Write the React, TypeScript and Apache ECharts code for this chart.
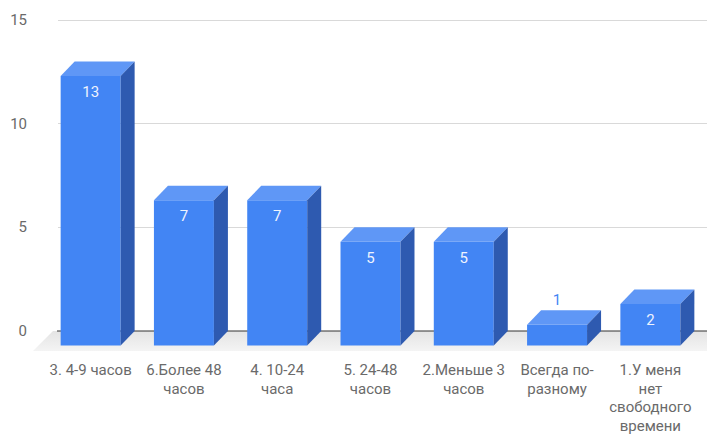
import React, { useEffect, useRef } from "react";
import * as echarts from "echarts";

// Answers per time bucket
const categories = [
  "3. 4-9 часов",
  "6.Более 48\nчасов",
  "4. 10-24\nчаса",
  "5. 24-48\nчасов",
  "2.Меньше 3\nчасов",
  "Всегда по-\nразному",
  "1.У меня\nнет\nсвободного\nвремени",
];
const counts = [13, 7, 7, 5, 5, 1, 2];
const yTicks = { min: 0, max: 15, interval: 5 };

// 3D box depth (px) and colours
const DX = 14;
const DY = 14.5;
const FRONT = "#4285f4";
const TOP = "#5f97f6";
const SIDE = "#2e5ab0";
const FONT = "Roboto, 'Noto Sans', sans-serif";

export default function App() {
  const ref = useRef<HTMLDivElement>(null);

  useEffect(() => {
    if (!ref.current) return;
    const chart = echarts.init(ref.current, null, { renderer: "svg" });

    const floorSeries = {
      type: "custom",
      silent: true,
      data: [[0, 0]],
      renderItem: (params: any, api: any) => {
        const cs = params.coordSys;
        const y0 = api.coord([0, 0])[1];
        const right = cs.x + cs.width;
        return {
          type: "group",
          children: [
            {
              type: "polygon",
              shape: {
                points: [
                  [cs.x - 5, y0],
                  [right, y0],
                  [right, y0 + 20],
                  [cs.x - 25, y0 + 20],
                ],
              },
              style: {
                fill: new echarts.graphic.LinearGradient(0, 0, 0, 1, [
                  { offset: 0, color: "#e4e4e4" },
                  { offset: 1, color: "#f4f4f4" },
                ]),
              },
            },
            {
              type: "line",
              shape: { x1: cs.x - 1, y1: y0, x2: right, y2: y0 },
              style: { stroke: "#333333", lineWidth: 1 },
            },
          ],
        };
      },
    };

    const barSeries = {
      type: "custom",
      data: counts.map((v, i) => [i, v]),
      renderItem: (_params: any, api: any) => {
        const idx = api.value(0);
        const v = api.value(1);
        const top = api.coord([idx, v]);
        const base = api.coord([idx, 0]);
        const bw = api.size([1, 0])[0] * 0.643;
        const fx = top[0] - bw / 2 - DX;
        const fyTop = top[1] + DY;
        const fyBot = base[1] + DY;
        const h = fyBot - fyTop;
        const inside = h > 30;
        return {
          type: "group",
          children: [
            {
              type: "rect",
              shape: { x: fx, y: fyTop, width: bw, height: h },
              style: { fill: FRONT },
            },
            {
              type: "polygon",
              shape: {
                points: [
                  [fx, fyTop],
                  [fx + bw, fyTop],
                  [fx + bw + DX, fyTop - DY],
                  [fx + DX, fyTop - DY],
                ],
              },
              style: { fill: TOP },
            },
            {
              type: "polygon",
              shape: {
                points: [
                  [fx + bw, fyTop],
                  [fx + bw + DX, fyTop - DY],
                  [fx + bw + DX, fyBot - DY],
                  [fx + bw, fyBot],
                ],
              },
              style: { fill: SIDE },
            },
            {
              type: "text",
              x: fx + bw / 2,
              y: inside ? fyTop + 16 : fyTop - 25,
              style: {
                text: String(v),
                fill: inside ? "#eef3fe" : FRONT,
                font: `15px ${FONT}`,
                align: "center",
                verticalAlign: "middle",
              },
            },
          ],
        };
      },
    };

    chart.setOption({
      animation: false,
      grid: {
        left: 58,
        top: 20,
        width: 653,
        bottom: 103,
        containLabel: false,
        outerBoundsMode: "none",
      },
      xAxis: {
        type: "category",
        data: categories,
        axisLine: { show: false },
        axisTick: { show: false },
        splitLine: { show: false },
        axisLabel: {
          interval: 0,
          margin: 30,
          color: "#6a6a6a",
          fontFamily: FONT,
          fontSize: 15,
          lineHeight: 18.5,
          padding: [0, 2 * DX, 0, 0],
        },
      },
      yAxis: {
        type: "value",
        min: yTicks.min,
        max: yTicks.max,
        interval: yTicks.interval,
        axisLine: { show: false },
        axisTick: { show: false },
        axisLabel: {
          margin: 31,
          color: "#6a6a6a",
          fontFamily: FONT,
          fontSize: 15,
        },
        splitLine: { lineStyle: { color: "#d9d9d9", width: 1 } },
      },
      series: [floorSeries, barSeries],
    });

    return () => chart.dispose();
  }, []);

  return (
    <div
      ref={ref}
      style={{ position: "fixed", left: 0, top: 0, width: 707, height: 434, background: "#ffffff" }}
    />
  );
}
